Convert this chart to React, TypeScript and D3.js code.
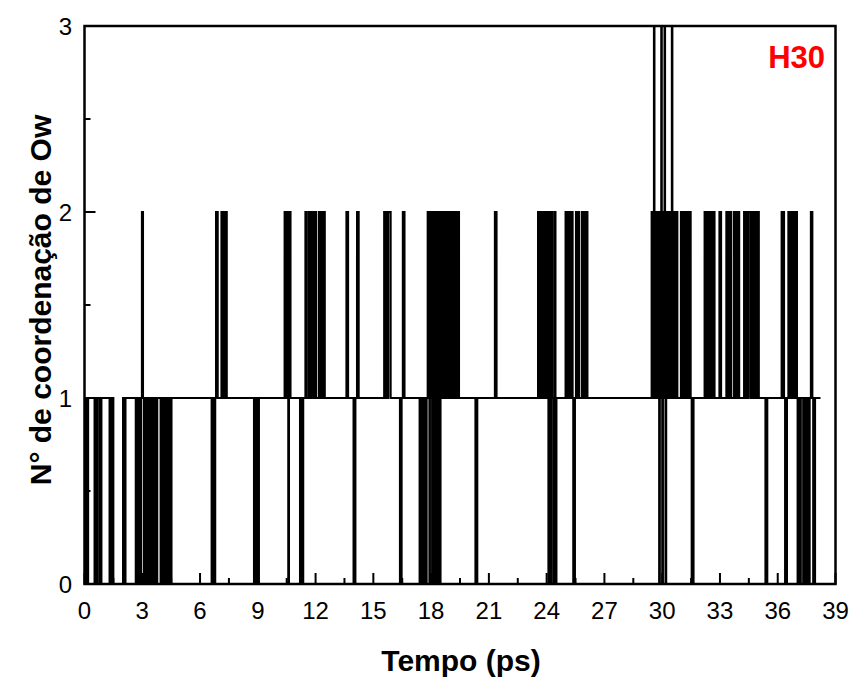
import React from 'react';
import * as d3 from 'd3';

// intervals (ps) where the coordination number leaves 1
const dipsToZero: [number, number][] = [
  [0.02, 0.08], [0.12, 0.19], [0.52, 0.58], [0.61, 0.67], [0.78, 0.88],
  [1.3, 1.36], [1.4, 1.46], [1.5, 2.0], [2.06, 2.13],
  [2.66, 2.72], [2.76, 2.82], [2.86, 2.94],
  [3.08, 3.15], [3.19, 3.26], [3.3, 3.37], [3.41, 3.48], [3.52, 3.59], [3.63, 3.7], [3.72, 3.78],
  [3.95, 4.02], [4.06, 4.13], [4.17, 4.24], [4.33, 4.4], [4.44, 4.52],
  [6.6, 6.67], [6.71, 6.79],
  [8.8, 8.86], [8.9, 8.96], [9.0, 9.06],
  [10.58, 10.62], [11.19, 11.26], [11.29, 11.36],
  [13.97, 14.07], [16.38, 16.47],
  [17.4, 17.47], [17.51, 17.58], [17.62, 17.7], [17.72, 17.77], [17.91, 17.94],
  [18.05, 18.09], [18.15, 18.19], [18.25, 18.29], [18.35, 18.39], [18.45, 18.49],
  [20.3, 20.4],
  [24.09, 24.13], [24.21, 24.25], [24.36, 24.4], [24.47, 24.51],
  [25.38, 25.47],
  [29.84, 29.88], [30.0, 30.04], [30.17, 30.21],
  [31.53, 31.63], [35.36, 35.46], [36.38, 36.48],
  [37.03, 37.1], [37.14, 37.2], [37.32, 37.4], [37.44, 37.52], [37.56, 37.66], [37.84, 37.94],
];

const spikesToTwo: [number, number][] = [
  [2.98, 3.04], [6.83, 6.92], [7.11, 7.18], [7.22, 7.29], [7.32, 7.39],
  [10.39, 10.45], [10.49, 10.55], [10.64, 10.7],
  [11.47, 11.53], [11.64, 11.7], [11.74, 11.81], [11.85, 11.92], [11.96, 12.03],
  [12.17, 12.24], [12.28, 12.35], [12.4, 12.48],
  [13.6, 13.69], [14.15, 14.24],
  [15.56, 15.63], [15.67, 15.74], [15.78, 15.9], [16.53, 16.62],
  [17.82, 17.88], [17.96, 18.02],
  [18.1, 18.14], [18.2, 18.24], [18.3, 18.34], [18.4, 18.44],
  [18.52, 18.58], [18.62, 18.68], [18.72, 18.78], [18.82, 18.88], [18.92, 18.98],
  [19.02, 19.08], [19.12, 19.18], [19.22, 19.3], [19.4, 19.45],
  [21.31, 21.4],
  [23.55, 23.62], [23.66, 23.73], [23.77, 23.84], [23.9, 23.97], [24.0, 24.06],
  [24.15, 24.19], [24.27, 24.31], [24.42, 24.46],
  [24.98, 25.05], [25.09, 25.16], [25.2, 25.27], [25.3, 25.35],
  [25.52, 25.58], [25.62, 25.68], [25.82, 25.89], [25.93, 26.0], [26.04, 26.12],
  [29.45, 29.5], [29.63, 29.68], [29.71, 29.76], [29.79, 29.82], [29.9, 29.93],
  [30.06, 30.09], [30.23, 30.27], [30.3, 30.35], [30.43, 30.47],
  [30.56, 30.6], [30.64, 30.69], [30.75, 30.79],
  [30.97, 31.04], [31.08, 31.15], [31.19, 31.26], [31.3, 31.37], [31.41, 31.48],
  [32.2, 32.27], [32.31, 32.38], [32.42, 32.49], [32.53, 32.6], [32.64, 32.72],
  [32.97, 33.06], [33.33, 33.4], [33.44, 33.51], [33.54, 33.59],
  [33.73, 33.8], [33.84, 33.91], [33.94, 34.0],
  [34.25, 34.32], [34.36, 34.43], [34.49, 34.6],
  [34.68, 34.75], [34.79, 34.86], [34.92, 35.02],
  [36.2, 36.26], [36.29, 36.33],
  [36.55, 36.62], [36.66, 36.73], [36.78, 36.85], [36.9, 37.0],
  [37.72, 37.8],
];

const spikesToThree: [number, number][] = [
  [29.57, 29.6], [29.95, 29.98], [30.12, 30.15], [30.5, 30.53],
];

const tEnd = 38.22;
const xTicks = d3.range(0, 40, 3);
const yTicks = [0, 1, 2, 3];

const W = 853, H = 677;
const left = 84.5, right = 835.5, top = 26, bottom = 584;

export default function App() {
  const x = d3.scaleLinear().domain([0, 39]).range([left, right]);
  const y = d3.scaleLinear().domain([0, 3]).range([bottom, top]);

  const events = [
    ...dipsToZero.map(([s, e]) => ({ s, e, v: 0 })),
    ...spikesToTwo.map(([s, e]) => ({ s, e, v: 2 })),
    ...spikesToThree.map(([s, e]) => ({ s, e, v: 3 })),
  ].sort((a, b) => a.s - b.s);

  const pts: [number, number][] = [[0, 1]];
  events.forEach(ev => {
    pts.push([ev.s, ev.v]);
    pts.push([ev.e, 1]);
  });
  pts.push([tEnd, 1]);

  const line = d3.line<[number, number]>()
    .x(d => x(d[0]))
    .y(d => y(d[1]))
    .curve(d3.curveStepAfter);

  const xMinor = d3.range(1.5, 39, 3);
  const yMinor = [0.5, 1.5, 2.5];
  const font = 'Arial, "Liberation Sans", sans-serif';

  return (
    <svg width={W} height={H} style={{ position: 'absolute', left: 0, top: 0, background: '#fff' }}>
      <defs>
        <clipPath id="plot">
          <rect x={left} y={top} width={right - left} height={bottom - top} />
        </clipPath>
      </defs>
      <path d={line(pts) || ''} fill="none" stroke="#000" strokeWidth={2} clipPath="url(#plot)" />

      {xTicks.map(t => (
        <g key={'x' + t}>
          <line x1={x(t)} x2={x(t)} y1={bottom} y2={bottom - 11} stroke="#000" strokeWidth={2} />
          <text x={x(t)} y={619} textAnchor="middle" fontFamily={font} fontSize={24}>{t}</text>
        </g>
      ))}
      {xMinor.map(t => (
        <line key={'xm' + t} x1={x(t)} x2={x(t)} y1={bottom} y2={bottom - 6} stroke="#000" strokeWidth={2} />
      ))}
      {yTicks.map(v => (
        <g key={'y' + v}>
          <line x1={left} x2={left + 11} y1={y(v)} y2={y(v)} stroke="#000" strokeWidth={2} />
          <text x={72} y={y(v) + 9} textAnchor="end" fontFamily={font} fontSize={24}>{v}</text>
        </g>
      ))}
      {yMinor.map(v => (
        <line key={'ym' + v} x1={left} x2={left + 6} y1={y(v)} y2={y(v)} stroke="#000" strokeWidth={2} />
      ))}

      <rect x={left} y={top} width={right - left} height={bottom - top} fill="none" stroke="#000" strokeWidth={2.5} />

      <text x={825} y={68} textAnchor="end" fontFamily={font} fontSize={31} fontWeight="bold" fill="#ff0000">H30</text>
      <text x={461} y={671} textAnchor="middle" fontFamily={font} fontSize={30} fontWeight="bold">Tempo (ps)</text>
      <text transform={`translate(51,${300}) rotate(-90)`} textAnchor="middle" fontFamily={font} fontSize={30} fontWeight="bold">N° de coordenação de Ow</text>
    </svg>
  );
}
